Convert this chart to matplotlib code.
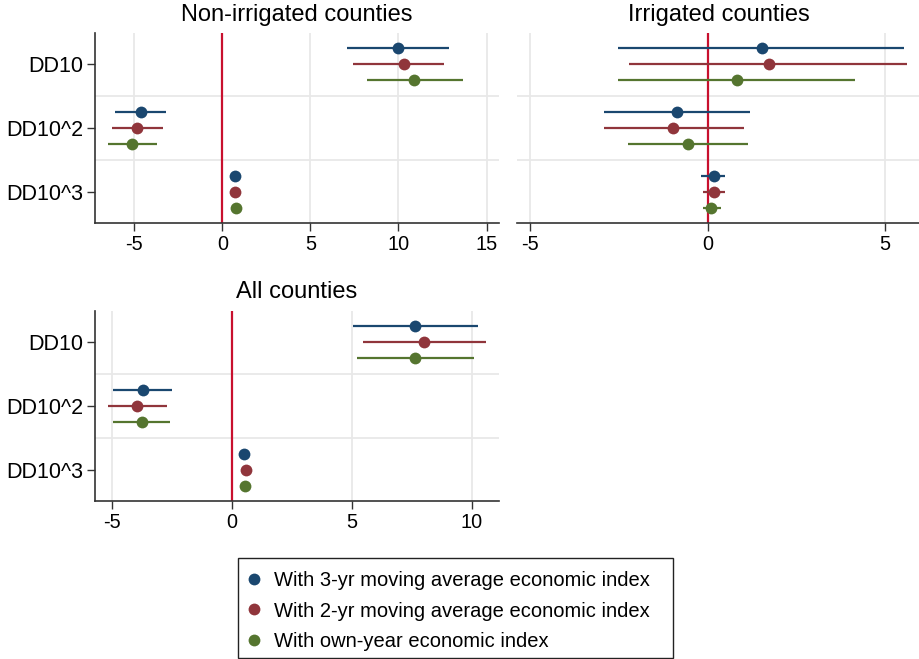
import numpy as np
import matplotlib.pyplot as plt
from matplotlib.lines import Line2D
from matplotlib.patches import Rectangle

plt.rcParams['font.family'] = ['Liberation Sans', 'DejaVu Sans']
plt.rcParams['axes.unicode_minus'] = False

terms = ["DD10", "DD10^2", "DD10^3"]
series = ["With 3-yr moving average economic index",
          "With 2-yr moving average economic index",
          "With own-year economic index"]
colors = ["#1a476f", "#90353b", "#55752f"]

# coefficient, lower and upper bound per series (rows) and term (columns)
nonirr_b = [[9.95, -4.65, 0.71], [10.33, -4.86, 0.73], [10.90, -5.12, 0.76]]
nonirr_lo = [[7.06, -6.11, 0.58], [7.43, -6.30, 0.60], [8.19, -6.49, 0.63]]
nonirr_hi = [[12.87, -3.23, 0.84], [12.60, -3.40, 0.86], [13.65, -3.74, 0.89]]

irr_b = [[1.53, -0.86, 0.17], [1.72, -0.96, 0.18], [0.83, -0.55, 0.10]]
irr_lo = [[-2.51, -2.93, -0.17], [-2.20, -2.93, -0.14], [-2.51, -2.25, -0.14]]
irr_hi = [[5.55, 1.20, 0.50], [5.63, 1.04, 0.50], [4.16, 1.15, 0.39]]

all_b = [[7.64, -3.72, 0.53], [8.03, -3.93, 0.58], [7.64, -3.75, 0.56]]
all_lo = [[5.07, -4.97, 0.42], [5.49, -5.14, 0.47], [5.24, -4.93, 0.45]]
all_hi = [[10.25, -2.47, 0.64], [10.58, -2.71, 0.69], [10.11, -2.57, 0.67]]

W, H = 920, 659
fig = plt.figure(figsize=(W / 100, H / 100), dpi=100)


def px_axes(x0, y0, x1, y1):
    return fig.add_axes([x0 / W, 1 - y1 / H, (x1 - x0) / W, (y1 - y0) / H])


def coefplot(ax, b, lo, hi, title, xlim, xticks, ylabels=True):
    offsets = [-0.25, 0.0, 0.25]
    pos = np.arange(len(terms))
    for g in [0.5, 1.5]:
        ax.axhline(g, color="#e8e8e8", lw=1.3, zorder=0)
    for t in xticks:
        ax.axvline(t, color="#e8e8e8", lw=1.3, zorder=0)
    ax.axvline(0, color="#c8102e", lw=1.6, zorder=1)
    for i in range(3):
        y = pos + offsets[i]
        ax.hlines(y, lo[i], hi[i], color=colors[i], lw=1.6, zorder=2)
        ax.plot(b[i], y, "o", color=colors[i], ms=8.5, mec="none", zorder=3)
    ax.set_xlim(*xlim)
    ax.set_ylim(2.49, -0.49)
    ax.set_xticks(xticks)
    ax.set_yticks(pos)
    ax.set_title(title, fontsize=17, pad=9)
    ax.tick_params(axis="x", labelsize=14.3, length=5.5, width=1,
                   color="#333333", pad=3)
    ax.tick_params(axis="y", labelsize=15.5, length=5.5, width=1,
                   color="#333333", pad=3)
    if ylabels:
        ax.set_yticklabels(terms)
    else:
        ax.set_yticklabels([])
        ax.tick_params(axis="y", length=0)
    for s in ["top", "right"]:
        ax.spines[s].set_visible(False)
    ax.spines["left"].set_visible(ylabels)
    for s in ["left", "bottom"]:
        ax.spines[s].set_color("#333333")
        ax.spines[s].set_linewidth(1.2)


ax1 = px_axes(95, 33, 499, 223)
coefplot(ax1, nonirr_b, nonirr_lo, nonirr_hi, "Non-irrigated counties",
         (-7.24, 15.71), [-5, 0, 5, 10, 15])

ax2 = px_axes(517, 33, 920, 223)
coefplot(ax2, irr_b, irr_lo, irr_hi, "Irrigated counties",
         (-5.37, 5.99), [-5, 0, 5], ylabels=False)

ax3 = px_axes(95, 311, 499, 501)
coefplot(ax3, all_b, all_lo, all_hi, "All counties",
         (-5.70, 11.14), [-5, 0, 5, 10])

# legend box drawn separately so its padding is not tied to the entries
fig.patches.append(Rectangle((238 / W, 1 - 658 / H), 435 / W, 100 / H,
                             transform=fig.transFigure, fill=False,
                             edgecolor="#222222", lw=1.0))
handles = [Line2D([], [], marker="o", ls="none", color=c, ms=8.5, mec="none")
           for c in colors]
fig.legend(handles, series, loc="upper left",
           bbox_to_anchor=(241 / W, 1 - 564 / H), fontsize=14.5,
           frameon=False, handlelength=0.6, handletextpad=0.7,
           labelspacing=0.57, borderpad=0.35, borderaxespad=0)

fig.savefig("out.png", dpi=100)
